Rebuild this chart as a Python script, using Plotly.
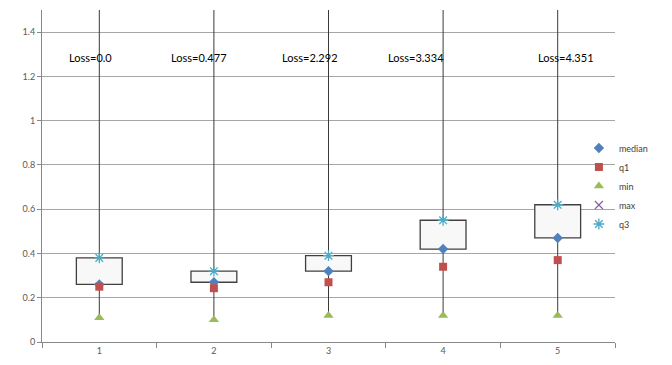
import plotly.graph_objects as go

categories = [1, 2, 3, 4, 5]
min_vals = [0.11, 0.10, 0.12, 0.12, 0.12]
q1_vals = [0.25, 0.243, 0.27, 0.34, 0.37]
median_vals = [0.26, 0.27, 0.32, 0.42, 0.47]
q3_vals = [0.38, 0.32, 0.39, 0.55, 0.62]
max_vals = [1.8, 1.8, 1.8, 1.8, 1.8]
loss_labels = ["Loss=0.0", "Loss=0.477", "Loss=2.292", "Loss=3.334", "Loss=4.351"]
y_ticks = [0, 0.2, 0.4, 0.6, 0.8, 1.0, 1.2, 1.4]
y_tick_text = ["0", "0.2", "0.4", "0.6", "0.8", "1", "1.2", "1.4"]

FONT = "Lato, 'Liberation Sans', sans-serif"
fig = go.Figure()

# whisker (high-low) lines: min -> median, q3 -> max
wx, wy = [], []
for c, lo, md, hi_b, hi in zip(categories, min_vals, median_vals, q3_vals, max_vals):
    wx += [c, c, None, c, c, None]
    wy += [lo, md, None, hi_b, hi, None]
fig.add_trace(go.Scatter(x=wx, y=wy, mode="lines", line=dict(color="#3a3a3a", width=1),
                         showlegend=False, hoverinfo="skip"))

# up-down bars: median -> q3
fig.add_trace(go.Bar(x=categories, base=median_vals,
                     y=[q - m for q, m in zip(q3_vals, median_vals)],
                     width=0.4, marker=dict(color="#f8f8f8", line=dict(color="#404040", width=1.3)),
                     showlegend=False, hoverinfo="skip"))

fig.add_trace(go.Scatter(x=categories, y=median_vals, mode="markers", name="median",
                         marker=dict(symbol="diamond", size=8, color="#4f81bd")))
fig.add_trace(go.Scatter(x=categories, y=q1_vals, mode="markers", name="q1",
                         marker=dict(symbol="square", size=8, color="#c0504d")))
fig.add_trace(go.Scatter(x=categories, y=min_vals, mode="markers", name="min",
                         marker=dict(symbol="triangle-up", size=9, color="#9bbb59")))
fig.add_trace(go.Scatter(x=categories, y=max_vals, mode="markers", name="max",
                         marker=dict(symbol="x-thin-open", size=8, color="#8064a2",
                                     line=dict(color="#8064a2", width=1.2))))
fig.add_trace(go.Scatter(x=categories, y=q3_vals, mode="markers", name="q3",
                         marker=dict(symbol="asterisk-open", size=9, color="#4bacc6",
                                     line=dict(color="#4bacc6", width=1.3))))

xshifts = [-9, -15, -19, -27, 8]
for c, txt, xs in zip(categories, loss_labels, xshifts):
    fig.add_annotation(x=c, y=1.285, text=txt, showarrow=False, xshift=xs,
                       font=dict(family=FONT, size=11, color="#000000"))

fig.update_layout(
    width=672, height=365,
    margin=dict(l=34, r=65, t=2, b=31),
    paper_bgcolor="white", plot_bgcolor="white",
    font=dict(family=FONT, size=9, color="#595959"),
    showlegend=True,
    legend=dict(x=0.937, xanchor="left", y=0.628, yanchor="top", itemwidth=30,
                font=dict(family=FONT, size=9, color="#404040"),
                bgcolor="rgba(0,0,0,0)", tracegroupgap=0),
    xaxis=dict(range=[0.5, 5.5], tickvals=categories, ticktext=[str(c) for c in categories],
               ticks="", showgrid=False, zeroline=False, showline=True, linecolor="#888888",
               linewidth=1,
               minor=dict(tick0=0.5, dtick=1, ticks="outside", ticklen=5, tickcolor="#888888",
                          showgrid=False)),
    yaxis=dict(range=[0, 1.5], tickvals=y_ticks, ticktext=y_tick_text, ticks="outside",
               ticklen=4, tickcolor="#888888", showgrid=True, gridcolor="#a6a6a6", gridwidth=1,
               zeroline=False, showline=True, linecolor="#888888", linewidth=1),
)

fig.write_html("out.html")
